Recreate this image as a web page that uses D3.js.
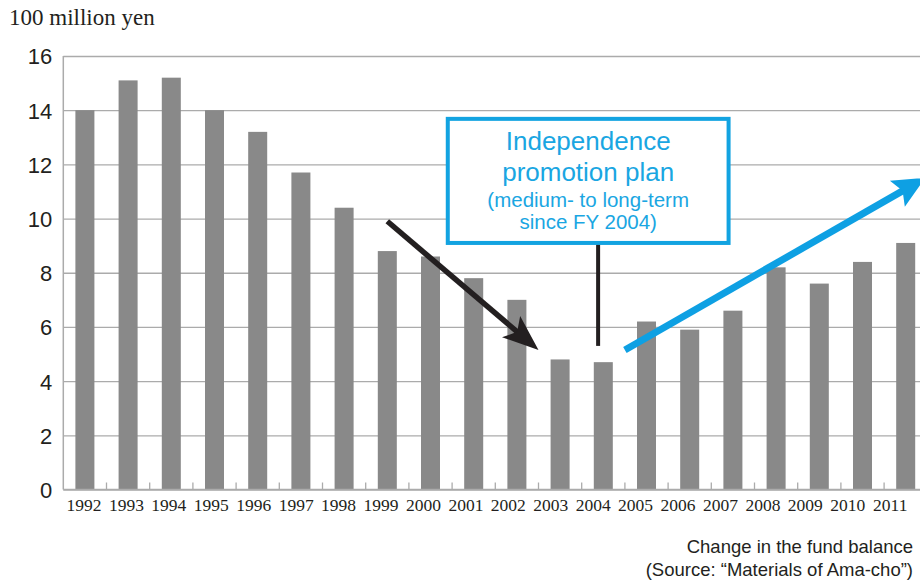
<!DOCTYPE html>
<html>
<head>
<meta charset="utf-8">
<script src="https://cdn.jsdelivr.net/npm/d3@7"></script>
<style>
  body { margin: 0; background: #fff; }
  svg { display: block; }
</style>
</head>
<body>
<div id="chart"></div>
<script>
// fund balance, 100 million yen
var years = ["1992","1993","1994","1995","1996","1997","1998","1999","2000","2001",
             "2002","2003","2004","2005","2006","2007","2008","2009","2010","2011"];
var balance = [14.0, 15.1, 15.2, 14.0, 13.2, 11.7, 10.4, 8.8, 8.6, 7.8,
               7.0, 4.8, 4.7, 6.2, 5.9, 6.6, 8.2, 7.6, 8.4, 9.1];
var yTicks = [0, 2, 4, 6, 8, 10, 12, 14, 16];

// annotations, in [band index, value] units
var declineArrow = [[7.5, 9.9], [11.0, 5.15]];
var growthArrow = [[13.0, 5.15], [19.95, 11.5]];
var planBox = {x0: 8.9, x1: 15.4, top: 13.68, bottom: 9.1};
var planLine = {x: 12.38, bottom: 5.3};
var planText = ["Independence", "promotion plan", "(medium- to long-term", "since FY 2004)"];

var width = 920, height = 580,
    margin = {top: 56, left: 63.3, bottom: 90.5},
    plotW = 20 * 43.2,
    plotBottom = height - margin.bottom;

var svg = d3.select("#chart").append("svg")
    .attr("width", width).attr("height", height);

var x = d3.scaleBand()
    .domain(years)
    .range([margin.left, margin.left + plotW])
    .paddingInner(0.56)
    .paddingOuter(0.28);

// year labels are set a little tighter than the bars in the original
var xLabel = d3.scalePoint()
    .domain(years)
    .range([83.5, 889.7]);

var y = d3.scaleLinear()
    .domain([0, 16])
    .range([plotBottom, margin.top]);

// index -> pixel along the band axis
function xi(i) { return margin.left + i * x.step(); }

var ink = "#231f20", blue = "#12a3e1", gridCol = "#ababab";

// gridlines
svg.append("g")
    .attr("transform", "translate(" + margin.left + ",0)")
    .call(d3.axisLeft(y).tickValues(yTicks).tickSize(-plotW).tickFormat(""))
    .call(function(g) {
	g.select(".domain").remove();
	g.selectAll("line").attr("stroke", gridCol).attr("stroke-width", 1.3);
    });

// left axis line
svg.append("line")
    .attr("x1", margin.left).attr("x2", margin.left)
    .attr("y1", y(16)).attr("y2", y(0))
    .attr("stroke", gridCol).attr("stroke-width", 1.5);

// bars
svg.append("g").selectAll("rect")
    .data(balance)
    .enter().append("rect")
    .attr("x", function(d, i) { return x(years[i]); })
    .attr("y", function(d) { return y(d); })
    .attr("width", x.bandwidth())
    .attr("height", function(d) { return y(0) - y(d); })
    .attr("fill", "#898989");

// bottom axis line + category separators
svg.append("line")
    .attr("x1", margin.left).attr("x2", margin.left + plotW)
    .attr("y1", y(0)).attr("y2", y(0))
    .attr("stroke", gridCol).attr("stroke-width", 1.5);

svg.append("g").selectAll("line")
    .data(d3.range(1, years.length))
    .enter().append("line")
    .attr("x1", function(i) { return xi(i); })
    .attr("x2", function(i) { return xi(i); })
    .attr("y1", y(0)).attr("y2", y(0) - 7)
    .attr("stroke", gridCol).attr("stroke-width", 1.3);

// y tick labels
svg.append("g")
    .attr("transform", "translate(" + margin.left + ",0)")
    .call(d3.axisLeft(y).tickValues(yTicks).tickSize(0).tickPadding(11))
    .call(function(g) {
	g.select(".domain").remove();
	g.selectAll("text")
	    .attr("fill", ink)
	    .attr("dy", "0.36em")
	    .style("font-family", "'Liberation Sans', Arial, sans-serif")
	    .style("font-size", "22px");
    });

// x tick labels
svg.append("g")
    .attr("transform", "translate(0," + y(0) + ")")
    .call(d3.axisBottom(xLabel).tickSize(0))
    .call(function(g) {
	g.select(".domain").remove();
	g.selectAll("text")
	    .attr("fill", ink)
	    .attr("y", 21.5)
	    .attr("dy", 0)
	    .style("font-family", "'Liberation Serif', 'Times New Roman', serif")
	    .style("font-size", "17.5px");
    });

// unit label
svg.append("text")
    .attr("x", 9).attr("y", 25)
    .attr("fill", ink)
    .style("font-family", "'Liberation Serif', 'Times New Roman', serif")
    .style("font-size", "23px")
    .text("100 million yen");

// arrows
function arrow(pts, color, lw, headLen, headW, notch) {
    var p0 = [xi(pts[0][0]), y(pts[0][1])],
	p1 = [xi(pts[1][0]), y(pts[1][1])],
	ang = Math.atan2(p1[1] - p0[1], p1[0] - p0[0]),
	c = Math.cos(ang), s = Math.sin(ang);
    function pt(a, b) { return [p1[0] + a * c - b * s, p1[1] + a * s + b * c]; }
    var lineEnd = pt(-headLen + notch + 2, 0);
    svg.append("line")
	.attr("x1", p0[0]).attr("y1", p0[1])
	.attr("x2", lineEnd[0]).attr("y2", lineEnd[1])
	.attr("stroke", color).attr("stroke-width", lw);
    svg.append("path")
	.attr("d", d3.line()([pt(0, 0), pt(-headLen, -headW / 2), pt(-headLen + notch, 0), pt(-headLen, headW / 2)]) + "Z")
	.attr("fill", color);
}
arrow(declineArrow, ink, 5.5, 36, 28, 8);
arrow(growthArrow, "#0ea0e3", 7, 32, 30, 6);

// plan box
svg.append("line")
    .attr("x1", xi(planLine.x)).attr("x2", xi(planLine.x))
    .attr("y1", y(planBox.bottom)).attr("y2", y(planLine.bottom))
    .attr("stroke", ink).attr("stroke-width", 4);

svg.append("rect")
    .attr("x", xi(planBox.x0)).attr("y", y(planBox.top))
    .attr("width", xi(planBox.x1) - xi(planBox.x0))
    .attr("height", y(planBox.bottom) - y(planBox.top))
    .attr("fill", "#fff")
    .attr("stroke", blue).attr("stroke-width", 4);

var boxCx = (xi(planBox.x0) + xi(planBox.x1)) / 2;
var textRows = [{y: 150, size: 26}, {y: 181, size: 26}, {y: 206.5, size: 20.5}, {y: 229, size: 20.5}];
svg.append("g").selectAll("text")
    .data(planText)
    .enter().append("text")
    .attr("x", boxCx)
    .attr("y", function(d, i) { return textRows[i].y; })
    .attr("text-anchor", "middle")
    .attr("fill", "#1aa6e2")
    .style("font-family", "'Liberation Sans', Arial, sans-serif")
    .style("font-size", function(d, i) { return textRows[i].size + "px"; })
    .text(function(d) { return d; });

// caption
svg.append("g").selectAll("text")
    .data(["Change in the fund balance", "(Source: \u201cMaterials of Ama-cho\u201d)"])
    .enter().append("text")
    .attr("x", 913)
    .attr("y", function(d, i) { return 553 + i * 22.5; })
    .attr("text-anchor", "end")
    .attr("fill", ink)
    .style("font-family", "'Liberation Sans', Arial, sans-serif")
    .style("font-size", "18.5px")
    .text(function(d) { return d; });
</script>
</body>
</html>
